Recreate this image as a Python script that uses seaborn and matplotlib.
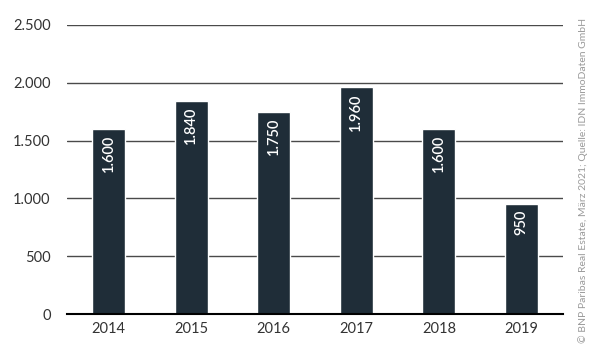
import matplotlib
matplotlib.use("Agg")
import matplotlib.pyplot as plt
import seaborn as sns
import pandas as pd
from matplotlib.ticker import FuncFormatter

years = ["2014", "2015", "2016", "2017", "2018", "2019"]
values = [1600, 1840, 1750, 1960, 1600, 950]
labels = ["1.600", "1.840", "1.750", "1.960", "1.600", "950"]
source = "© BNP Paribas Real Estate, März 2021; Quelle: IDN ImmoDaten GmbH"

df = pd.DataFrame({"Jahr": years, "Wert": values})

sns.set_style("white")
plt.rcParams["font.family"] = ["Lato", "DejaVu Sans"]

fig = plt.figure(figsize=(6, 3.61), dpi=100)
ax = fig.add_axes([0.112, 0.130, 0.826, 0.801])

# grid first, bars on top
for y in [500, 1000, 1500, 2000, 2500]:
    ax.axhline(y, color="#4a4a4a", lw=1.0, zorder=0)

sns.barplot(data=df, x="Jahr", y="Wert", color="#1f2d38", saturation=1,
            width=0.4, ax=ax, zorder=2)

for i, (v, lab) in enumerate(zip(values, labels)):
    ax.text(i, v - 50, lab, rotation=90, ha="center", va="top",
            color="white", fontsize=10.5, fontweight="semibold", zorder=3)

ax.set_ylim(0, 2500)
ax.set_xlim(-0.5, 5.5)
ax.set_yticks([0, 500, 1000, 1500, 2000, 2500])
ax.yaxis.set_major_formatter(FuncFormatter(lambda v, p: f"{int(v):,}".replace(",", ".")))
ax.set_xlabel("")
ax.set_ylabel("")
for s in ["top", "right", "left"]:
    ax.spines[s].set_visible(False)
ax.spines["bottom"].set_color("black")
ax.spines["bottom"].set_linewidth(1.5)
ax.tick_params(axis="both", length=0, labelsize=10.5, colors="#333333")
ax.tick_params(axis="y", pad=12)
ax.tick_params(axis="x", pad=6)

fig.text(0.972, 0.5, source, rotation=90, ha="center", va="center",
         fontsize=7.5, color="#9a9a9a")

fig.savefig("out.png", dpi=100)
